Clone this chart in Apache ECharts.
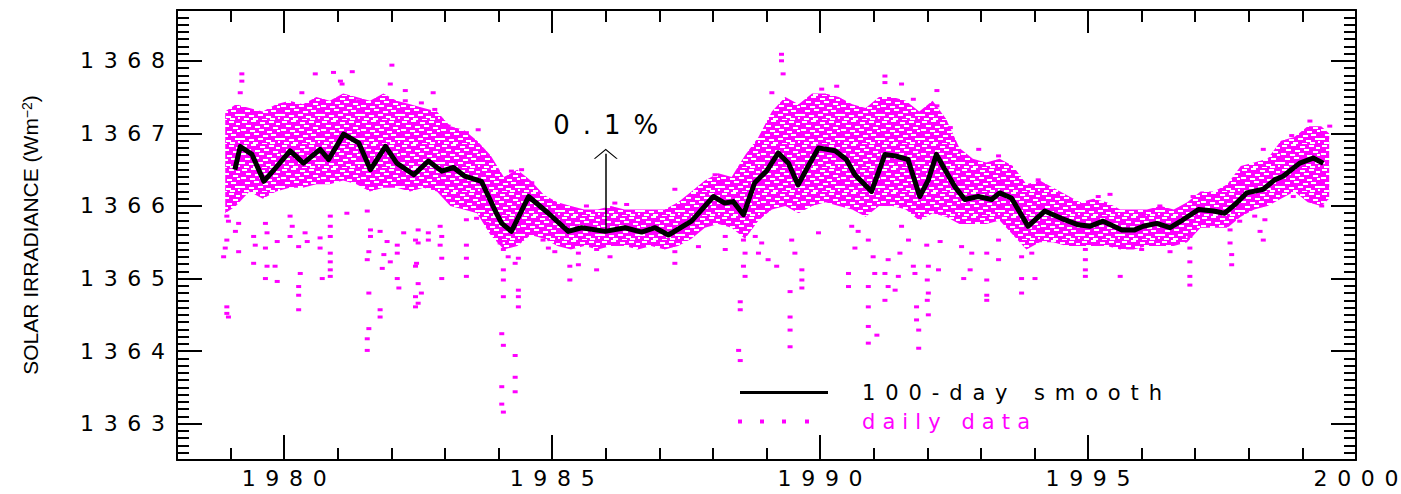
<!DOCTYPE html>
<html>
<head>
<meta charset="utf-8">
<script src="https://cdn.jsdelivr.net/npm/echarts@6/dist/echarts.min.js"></script>
<style>
html, body { margin: 0; padding: 0; background: #fff; }
#chart { width: 1401px; height: 494px; }
</style>
</head>
<body>
<div id="chart"></div>
<script>
// 刻度
const majorYears = [1980, 1985, 1990, 1995, 2000];
const majorValues = [1363, 1364, 1365, 1366, 1367, 1368];

// 100天平滑曲线
const smoothYears = [1979.08, 1979.18, 1979.40, 1979.62, 1979.87, 1980.11, 1980.36, 1980.67, 1980.83, 1981.11,
  1981.39, 1981.61, 1981.89, 1982.10, 1982.42, 1982.69, 1982.94, 1983.16, 1983.37, 1983.68,
  1983.96, 1984.06, 1984.24, 1984.56, 1984.93, 1985.30, 1985.55, 1985.99, 1986.36, 1986.67,
  1986.92, 1987.17, 1987.60, 1988.01, 1988.22, 1988.38, 1988.57, 1988.78, 1989.00, 1989.22,
  1989.41, 1989.59, 1989.78, 1989.97, 1990.28, 1990.49, 1990.65, 1990.96, 1991.21, 1991.40,
  1991.64, 1991.86, 1992.02, 1992.17, 1992.33, 1992.51, 1992.70, 1992.95, 1993.20, 1993.35,
  1993.57, 1993.88, 1994.19, 1994.50, 1994.82, 1995.03, 1995.28, 1995.63, 1995.87, 1996.03,
  1996.28, 1996.53, 1996.77, 1997.06, 1997.34, 1997.55, 1997.77, 1997.96, 1998.27, 1998.48,
  1998.64, 1998.95, 1999.20, 1999.39];
const smoothValues = [1366.50, 1366.82, 1366.71, 1366.34, 1366.55, 1366.76, 1366.59, 1366.78, 1366.64, 1366.99,
  1366.87, 1366.50, 1366.82, 1366.59, 1366.43, 1366.62, 1366.48, 1366.53, 1366.41, 1366.34,
  1365.90, 1365.76, 1365.65, 1366.13, 1365.90, 1365.65, 1365.70, 1365.65, 1365.70, 1365.64,
  1365.70, 1365.60, 1365.79, 1366.13, 1366.04, 1366.06, 1365.88, 1366.32, 1366.48, 1366.73,
  1366.59, 1366.29, 1366.55, 1366.80, 1366.76, 1366.64, 1366.43, 1366.20, 1366.71, 1366.69,
  1366.64, 1366.13, 1366.36, 1366.71, 1366.50, 1366.27, 1366.09, 1366.13, 1366.09, 1366.18,
  1366.11, 1365.72, 1365.93, 1365.83, 1365.74, 1365.72, 1365.79, 1365.67, 1365.67, 1365.72,
  1365.76, 1365.70, 1365.81, 1365.95, 1365.93, 1365.90, 1366.04, 1366.18, 1366.23, 1366.36,
  1366.41, 1366.59, 1366.66, 1366.59];

// 日数据密集区的上下边
const bandYears = [1978.9, 1979.1, 1979.35, 1979.6, 1979.85, 1980.1, 1980.35, 1980.6, 1980.85, 1981.1,
  1981.35, 1981.6, 1981.85, 1982.1, 1982.35, 1982.6, 1982.85, 1983.1, 1983.35, 1983.6,
  1983.85, 1984.1, 1984.35, 1984.6, 1984.85, 1985.1, 1985.35, 1985.6, 1985.85, 1986.1,
  1986.35, 1986.6, 1986.85, 1987.1, 1987.35, 1987.6, 1987.85, 1988.1, 1988.35, 1988.6,
  1988.85, 1989.1, 1989.35, 1989.6, 1989.85, 1990.1, 1990.35, 1990.6, 1990.85, 1991.1,
  1991.35, 1991.6, 1991.85, 1992.1, 1992.35, 1992.6, 1992.85, 1993.1, 1993.35, 1993.6,
  1993.85, 1994.1, 1994.35, 1994.6, 1994.85, 1995.1, 1995.35, 1995.6, 1995.85, 1996.1,
  1996.35, 1996.6, 1996.85, 1997.1, 1997.35, 1997.6, 1997.85, 1998.1, 1998.35, 1998.6,
  1998.85, 1999.1, 1999.35, 1999.5];
const bandHigh = [1367.3, 1367.4, 1367.35, 1367.3, 1367.4, 1367.45, 1367.4, 1367.5, 1367.45, 1367.55,
  1367.5, 1367.45, 1367.55, 1367.45, 1367.4, 1367.35, 1367.3, 1367.1, 1367.05, 1366.9,
  1366.7, 1366.4, 1366.5, 1366.35, 1366.15, 1366.05, 1366.0, 1365.95, 1365.95, 1366.0,
  1365.95, 1365.95, 1365.95, 1365.95, 1366.05, 1366.2, 1366.35, 1366.45, 1366.4, 1366.7,
  1366.95, 1367.3, 1367.5, 1367.4, 1367.55, 1367.55, 1367.5, 1367.4, 1367.35, 1367.5,
  1367.5, 1367.45, 1367.3, 1367.45, 1367.2, 1366.8, 1366.65, 1366.6, 1366.65, 1366.55,
  1366.3, 1366.35, 1366.25, 1366.15, 1366.05, 1366.1, 1366.05, 1365.95, 1365.95, 1365.95,
  1366.0, 1365.95, 1366.05, 1366.2, 1366.2, 1366.3, 1366.55, 1366.6, 1366.65, 1366.9,
  1366.95, 1367.1, 1367.1, 1367.0];
const bandLow = [1365.9, 1366.0, 1366.2, 1366.1, 1366.2, 1366.25, 1366.25, 1366.3, 1366.3, 1366.35,
  1366.3, 1366.2, 1366.25, 1366.25, 1366.2, 1366.25, 1366.2, 1366.0, 1365.95, 1365.9,
  1365.6, 1365.4, 1365.45, 1365.6, 1365.55, 1365.45, 1365.4, 1365.45, 1365.4, 1365.45,
  1365.45, 1365.4, 1365.45, 1365.4, 1365.45, 1365.55, 1365.7, 1365.75, 1365.7, 1365.55,
  1365.8, 1365.95, 1366.0, 1365.9, 1366.0, 1366.05, 1366.0, 1365.95, 1365.85, 1366.0,
  1366.0, 1365.95, 1365.8, 1365.9, 1365.85, 1365.75, 1365.75, 1365.75, 1365.8, 1365.6,
  1365.4, 1365.5, 1365.5, 1365.45, 1365.45, 1365.45, 1365.45, 1365.4, 1365.4, 1365.45,
  1365.45, 1365.45, 1365.5, 1365.7, 1365.7, 1365.7, 1365.85, 1365.95, 1366.0, 1366.1,
  1366.2, 1366.05, 1366.0, 1366.1];

// 密集区之外零散的日数据点 [年, 值]
const dailyPoints = [
  [1979.21, 1367.82], [1979.21, 1367.72], [1979.18, 1367.56], [1980.58, 1367.82], [1980.92, 1367.84],
  [1981.27, 1367.85], [1982.01, 1367.94], [1981.08, 1367.68], [1981.98, 1367.68], [1980.71, 1367.45],
  [1982.26, 1367.59], [1982.26, 1367.45], [1980.33, 1367.56], [1981.39, 1367.45], [1981.05, 1367.72],
  [1978.93, 1365.86], [1978.96, 1365.79], [1979.15, 1365.76], [1979.09, 1365.65], [1978.93, 1365.53],
  [1978.90, 1365.42], [1978.87, 1365.30], [1979.15, 1365.37], [1979.43, 1365.58], [1979.46, 1365.46],
  [1979.43, 1365.21], [1979.68, 1365.17], [1979.83, 1365.17], [1979.65, 1365.00], [1979.87, 1364.96],
  [1979.65, 1365.76], [1979.68, 1365.63], [1979.65, 1365.42], [1979.87, 1365.51], [1980.11, 1365.86],
  [1980.15, 1365.72], [1980.11, 1365.58], [1980.27, 1365.44], [1980.30, 1365.07], [1980.27, 1364.89],
  [1980.27, 1364.77], [1980.27, 1364.57], [1980.39, 1365.63], [1980.43, 1365.51], [1980.67, 1365.56],
  [1980.67, 1365.42], [1980.71, 1365.00], [1980.86, 1365.86], [1980.86, 1365.72], [1980.86, 1365.58],
  [1980.86, 1365.35], [1980.86, 1365.23], [1980.86, 1365.12], [1980.86, 1365.03], [1981.17, 1365.90],
  [1981.55, 1365.93], [1981.61, 1365.67], [1981.61, 1365.58], [1981.58, 1365.37], [1981.55, 1365.26],
  [1981.58, 1364.80], [1981.58, 1364.31], [1981.55, 1364.17], [1981.55, 1364.01], [1981.79, 1365.65],
  [1981.79, 1364.57], [1981.79, 1364.47], [1981.83, 1365.14], [1981.86, 1365.33], [1981.92, 1365.51],
  [1981.98, 1365.23], [1982.11, 1365.46], [1982.11, 1365.35], [1982.11, 1365.00], [1982.14, 1364.87],
  [1982.23, 1365.63], [1982.45, 1365.53], [1982.45, 1365.17], [1982.45, 1364.75], [1982.45, 1364.61],
  [1978.93, 1364.61], [1978.93, 1364.52], [1978.96, 1364.47],
  [1982.78, 1367.56], [1982.56, 1367.42], [1982.81, 1367.33], [1983.06, 1367.10], [1983.40, 1367.01],
  [1983.62, 1367.05], [1984.24, 1366.48], [1984.43, 1366.50], [1984.62, 1366.32], [1985.64, 1366.00],
  [1986.17, 1366.04], [1986.39, 1366.02],
  [1982.50, 1365.67], [1982.69, 1365.63], [1982.50, 1365.49], [1982.69, 1365.53], [1982.47, 1365.21],
  [1982.50, 1364.93], [1982.56, 1364.80], [1982.50, 1364.66], [1982.91, 1365.72], [1982.94, 1365.58],
  [1982.91, 1365.46], [1982.94, 1365.28], [1982.94, 1365.00], [1983.40, 1365.81], [1983.40, 1365.46],
  [1983.40, 1365.28], [1983.40, 1365.03], [1983.59, 1365.83], [1983.78, 1365.76], [1984.03, 1365.49],
  [1984.09, 1365.40], [1984.18, 1365.30], [1984.09, 1365.12], [1984.31, 1365.21], [1984.37, 1365.28],
  [1984.09, 1364.98], [1984.09, 1364.75], [1984.37, 1364.84], [1984.37, 1364.75], [1984.37, 1364.61],
  [1984.06, 1364.24], [1984.09, 1364.08], [1984.31, 1363.94], [1984.06, 1363.51], [1984.31, 1363.64],
  [1984.31, 1363.44], [1984.06, 1363.27], [1984.09, 1363.16], [1984.83, 1365.53], [1984.93, 1365.42],
  [1985.05, 1365.37], [1985.33, 1365.17], [1985.49, 1365.19], [1985.33, 1364.98], [1985.83, 1365.12],
  [1986.08, 1365.30], [1985.83, 1365.40], [1985.49, 1365.35],
  [1987.29, 1365.21], [1987.29, 1365.37], [1987.73, 1365.44], [1987.29, 1366.23], [1988.04, 1366.43],
  [1988.23, 1365.58], [1988.23, 1365.40], [1988.57, 1365.53], [1988.60, 1365.35], [1988.57, 1365.17],
  [1988.60, 1365.03], [1988.51, 1364.68], [1988.51, 1364.57], [1988.48, 1364.01], [1988.51, 1363.87],
  [1988.79, 1365.58], [1988.85, 1365.35], [1989.03, 1365.26], [1989.19, 1365.17], [1988.91, 1365.49],
  [1989.28, 1368.09], [1989.28, 1368.00], [1989.31, 1367.82], [1989.10, 1367.56], [1989.47, 1365.53],
  [1989.53, 1365.35], [1989.66, 1365.12], [1989.66, 1364.98], [1989.66, 1364.87], [1989.44, 1364.82],
  [1989.44, 1364.47], [1989.44, 1364.29], [1989.44, 1364.06], [1989.97, 1365.63], [1990.31, 1367.65],
  [1990.03, 1367.61], [1990.59, 1365.72], [1990.65, 1365.42], [1990.53, 1365.07], [1990.53, 1364.89],
  [1990.90, 1365.53], [1990.99, 1365.30], [1991.02, 1365.07], [1990.90, 1364.89], [1990.90, 1364.61],
  [1990.90, 1364.34], [1990.90, 1364.11], [1991.06, 1364.22], [1991.21, 1367.79], [1991.21, 1367.70],
  [1991.27, 1365.26], [1991.21, 1365.07], [1991.27, 1364.89], [1991.21, 1364.70], [1990.71, 1365.65],
  [1991.52, 1367.68], [1991.74, 1367.47], [1992.18, 1367.59], [1992.18, 1367.38], [1992.43, 1367.08],
  [1991.52, 1365.72], [1991.65, 1365.53], [1991.49, 1365.35], [1991.74, 1365.17], [1991.77, 1365.07],
  [1991.46, 1365.03], [1991.40, 1364.84], [1991.99, 1365.46], [1992.02, 1365.17], [1992.00, 1364.98],
  [1992.02, 1364.80], [1992.00, 1364.70], [1991.80, 1364.61], [1991.80, 1364.43], [1991.84, 1364.29],
  [1991.84, 1364.04], [1992.02, 1364.50], [1992.24, 1365.51], [1992.21, 1365.12], [1992.64, 1365.44],
  [1992.68, 1365.00], [1992.83, 1365.35], [1992.80, 1365.12], [1993.11, 1365.35], [1993.11, 1364.98],
  [1993.11, 1364.77], [1993.11, 1364.70], [1993.33, 1365.26], [1993.33, 1365.53], [1992.96, 1366.78],
  [1993.33, 1366.69], [1993.76, 1365.30], [1993.76, 1365.00], [1993.76, 1364.80], [1994.01, 1365.00],
  [1993.95, 1365.35], [1994.07, 1366.36], [1994.95, 1365.40], [1994.95, 1365.26], [1994.95, 1365.12],
  [1994.95, 1365.03], [1995.60, 1365.03], [1995.19, 1366.13], [1995.41, 1366.16],
  [1996.03, 1365.88], [1996.34, 1366.00], [1996.53, 1365.37], [1996.00, 1365.40], [1996.90, 1365.58],
  [1996.90, 1365.42], [1996.90, 1365.23], [1996.90, 1365.03], [1996.90, 1364.91], [1996.96, 1366.13],
  [1997.65, 1365.67], [1997.65, 1365.49], [1997.68, 1365.33], [1997.68, 1365.19], [1997.83, 1365.79],
  [1998.11, 1365.86], [1998.21, 1365.65], [1998.27, 1365.53], [1998.30, 1365.81], [1998.27, 1366.78],
  [1998.80, 1366.97], [1998.83, 1366.13], [1999.14, 1367.17], [1999.36, 1366.00], [1999.51, 1367.10]
];

// 0.1% 箭头
const arrowYear = 1986.0;
const arrowFrom = 1365.64;
const arrowTo = 1366.72;

const FONT = 'DejaVu Sans';
const MAGENTA = '#ff00ff';
const AXIS_LINE = { color: '#000', width: 2 };

// 文字的宽度（参考图的字很宽）
const textWidths = { '0.1%': 105, '100-day smooth': 300, 'daily data': 168 };
const yearLabelWidth = 85;

// 点云的斑点纹理：粉底上留一些白色小缝
function speckle() {
  const c = document.createElement('canvas');
  c.width = 40; c.height = 24;
  const g = c.getContext('2d');
  g.fillStyle = MAGENTA;
  g.fillRect(0, 0, 40, 24);
  g.fillStyle = '#fff';
  [[2, 1], [11, 0], [20, 2], [29, 1], [36, 3], [6, 5], [15, 6], [24, 5], [33, 7], [1, 9],
   [10, 10], [19, 9], [27, 11], [37, 10], [5, 14], [14, 13], [23, 15], [31, 14], [0, 18], [9, 19],
   [18, 18], [26, 20], [35, 18], [4, 22], [13, 22], [22, 23], [30, 22], [38, 21]].forEach(function (d) {
    g.fillRect(d[0], d[1], 5, 2);
  });
  return c;
}
const speckleCanvas = speckle();

var myChart = echarts.init(document.getElementById('chart'), null, { renderer: 'svg' });

function plain(v) { return String(v); }

function xAxisOf(position, major) {
  return {
    type: 'value', position: position, min: 1978, max: 2000,
    interval: major ? undefined : 1,
    axisLine: { show: major, lineStyle: AXIS_LINE },
    axisTick: major
      ? { inside: true, length: position === 'top' ? 23 : 25, customValues: majorYears, lineStyle: AXIS_LINE }
      : { inside: true, length: 12, lineStyle: AXIS_LINE },
    axisLabel: (major && position === 'bottom')
      ? { customValues: majorYears, formatter: plain, fontSize: 22, fontFamily: FONT, color: '#000', margin: 7 }
      : { show: false },
    splitLine: { show: false }
  };
}

function yAxisOf(position, major) {
  return {
    type: 'value', position: position, min: 1362.5, max: 1368.7,
    interval: major ? undefined : 0.1,
    axisLine: { show: major, lineStyle: AXIS_LINE },
    axisTick: major
      ? { inside: true, length: 25, customValues: majorValues, lineStyle: AXIS_LINE }
      : { inside: true, length: 12, lineStyle: AXIS_LINE },
    axisLabel: (major && position === 'left')
      ? { customValues: majorValues, formatter: plain, fontSize: 22, fontFamily: FONT, color: '#000', margin: 12 }
      : { show: false },
    splitLine: { show: false }
  };
}

const yMain = yAxisOf('left', true);
yMain.name = 'SOLAR IRRADIANCE (Wm{sup|−2})';
yMain.nameLocation = 'middle';
yMain.nameRotate = 90;
yMain.nameGap = 136;
yMain.nameMoveOverlap = false;
yMain.nameTextStyle = {
  fontSize: 21, fontFamily: 'Liberation Sans', color: '#000',
  rich: { sup: { fontSize: 14, fontFamily: 'Liberation Sans', color: '#000', verticalAlign: 'top' } }
};

option = {
  animation: false,
  backgroundColor: '#fff',
  grid: { left: 177, right: 45, top: 10, bottom: 34, containLabel: false, outerBoundsMode: 'none' },
  xAxis: [xAxisOf('bottom', true), xAxisOf('bottom', false), xAxisOf('top', true), xAxisOf('top', false)],
  yAxis: [yMain, yAxisOf('left', false), yAxisOf('right', true), yAxisOf('right', false)],
  legend: [
    {
      data: [{ name: '100-day smooth', icon: 'path://M0,0h88v3h-88z' }],
      orient: 'vertical', left: 740, top: 382, padding: 0,
      itemWidth: 88, itemHeight: 14, selectedMode: false,
      itemStyle: { color: '#000' },
      textStyle: { fontSize: 21, fontFamily: FONT, color: '#000', padding: [0, 0, 0, 29] }
    },
    {
      data: [{ name: 'daily data', icon: 'path://M0,0h4v4h-4zM22,0h4v4h-4zM44,0h4v4h-4zM67,0h4v4h-4z' }],
      orient: 'vertical', left: 738, top: 411, padding: 0,
      itemWidth: 71, itemHeight: 14, selectedMode: false,
      textStyle: { fontSize: 21, fontFamily: FONT, color: MAGENTA, padding: [0, 0, 0, 48] }
    }
  ],
  series: [
    {
      // 密集的粉色点云
      name: 'daily data', type: 'custom', silent: true, z: 1,
      data: bandYears.map((y, i) => [y, bandLow[i], bandHigh[i]]),
      encode: { x: 0, y: [1, 2] },
      itemStyle: { color: MAGENTA },
      renderItem: function (params, api) {
        if (params.dataIndex !== 0) return null;
        const upper = bandYears.map((y, i) => api.coord([y, bandHigh[i]]));
        const lower = bandYears.map((y, i) => api.coord([y, bandLow[i]])).reverse();
        return {
          type: 'polygon', shape: { points: upper.concat(lower) },
          style: { fill: { image: speckleCanvas, repeat: 'repeat', imageWidth: 40, imageHeight: 24 } }
        };
      }
    },
    {
      name: 'daily data', type: 'scatter', silent: true, z: 2,
      data: dailyPoints,
      symbol: 'rect', symbolSize: [5, 3],
      itemStyle: { color: MAGENTA, opacity: 1 }
    },
    {
      name: '100-day smooth', type: 'line', z: 3,
      data: smoothYears.map((y, i) => [y, smoothValues[i]]),
      symbol: 'none',
      lineStyle: { color: '#000', width: 5, join: 'round' },
      itemStyle: { color: '#000' },
      markLine: {
        silent: true,
        symbol: ['none', 'path://M0,10L12,0L24,10L22.4,10L12,1.6L1.6,10Z'],
        symbolSize: [24, 10],
        lineStyle: { color: '#000', width: 1.5, type: 'solid' },
        label: { show: true, position: 'end', formatter: '0.1%', distance: 16, fontSize: 26, fontFamily: FONT, color: '#000' },
        emphasis: { disabled: true },
        data: [[{ coord: [arrowYear, arrowFrom] }, { coord: [arrowYear, arrowTo] }]]
      }
    }
  ]
};

myChart.setOption(option);

// 把文字拉宽到参考图的宽度
function stretchTexts() {
  document.querySelectorAll('#chart text').forEach(function (t) {
    const s = t.textContent;
    let w = textWidths[s];
    if (w == null && /^\d{4}$/.test(s)) w = yearLabelWidth;
    if (w) {
      t.setAttribute('textLength', w);
      t.setAttribute('lengthAdjust', 'spacing');
    }
  });
}
myChart.on('finished', stretchTexts);
setTimeout(stretchTexts, 30);
stretchTexts();
</script>
</body>
</html>
